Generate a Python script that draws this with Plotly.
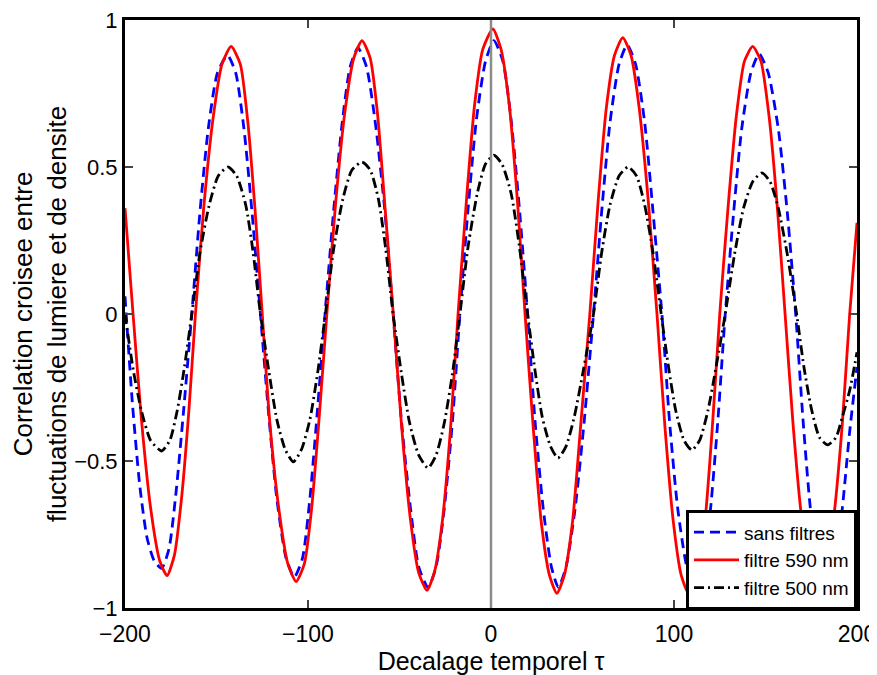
import plotly.graph_objects as go

# ---- data ----
red_x = [-200, -195.6, -191, -186, -181, -177, -173, -169, -165, -161.5, -157, -152, -147, -142, -137, -133, -129, -125,
         -121, -116, -111, -106.5, -102, -98, -94, -89.7, -85, -80, -75, -70.5, -66, -62, -58, -53.4, -49, -44, -39.5,
         -35, -31, -26.5, -22, -18, -13.5, -9, -4.5, 1, 5.5, 10, 14.5, 18.6, 23, 27.5, 32, 36, 40, 44.5, 49, 54, 58.5,
         63, 67.5, 72, 76.5, 81, 86, 90.7, 95, 99.5, 104, 108, 112.5, 117, 121, 125, 129.5, 134, 138.5, 143, 147.5,
         152, 156.5, 160.7, 165, 169.5, 174, 178.5, 183, 187.5, 192, 196, 200]
red_y = [0.36, 0.0, -0.36, -0.66, -0.84, -0.89, -0.82, -0.62, -0.32, 0.0, 0.36, 0.66, 0.85, 0.91, 0.85, 0.66, 0.36, 0.0,
         -0.36, -0.66, -0.85, -0.91, -0.85, -0.66, -0.36, 0.0, 0.37, 0.68, 0.87, 0.93, 0.87, 0.68, 0.37, 0.0, -0.37,
         -0.70, -0.88, -0.94, -0.88, -0.70, -0.38, 0.0, 0.38, 0.71, 0.90, 0.97, 0.90, 0.71, 0.38, 0.0, -0.38, -0.71,
         -0.89, -0.95, -0.89, -0.71, -0.38, 0.0, 0.38, 0.70, 0.88, 0.94, 0.88, 0.70, 0.38, 0.0, -0.38, -0.70, -0.89,
         -0.95, -0.89, -0.70, -0.38, 0.0, 0.36, 0.67, 0.86, 0.91, 0.86, 0.67, 0.36, 0.0, -0.37, -0.68, -0.87, -0.93,
         -0.87, -0.68, -0.37, 0.0, 0.31]

blue_x = [-200, -196, -192, -188, -184, -180, -176, -172, -168, -163.5, -159, -154.5, -149.5, -144, -139.5, -135, -130.5,
          -126, -121.5, -117, -112, -107.5, -103, -99, -95, -90.7, -86, -81.5, -77, -72.7, -68, -63, -58, -53.5, -49,
          -44, -39.5, -34.4, -30, -25.5, -21, -17, -12.5, -8, -3, 1.6, 6.5, 11, 15.5, 20, 24, 28.5, 33, 36.8, 41, 46,
          51, 56, 60.5, 65, 70, 74.4, 79, 84, 88.5, 93.4, 97.5, 102, 107, 111.5, 116, 120, 124, 128, 132.5, 137, 142,
          146.5, 151.5, 157, 162, 166.5, 170.5, 174.5, 179, 183.5, 188, 192, 196, 200]
blue_y = [0.06, -0.30, -0.58, -0.76, -0.84, -0.865, -0.80, -0.60, -0.33, 0.0, 0.35, 0.63, 0.82, 0.88, 0.82, 0.63, 0.34,
          0.0, -0.34, -0.63, -0.83, -0.895, -0.83, -0.63, -0.34, 0.0, 0.35, 0.64, 0.84, 0.905, 0.84, 0.64, 0.35, 0.0,
          -0.36, -0.66, -0.86, -0.93, -0.86, -0.66, -0.36, 0.0, 0.36, 0.66, 0.86, 0.93, 0.86, 0.66, 0.36, 0.0, -0.36,
          -0.66, -0.86, -0.93, -0.86, -0.66, -0.36, 0.0, 0.35, 0.65, 0.85, 0.915, 0.85, 0.65, 0.35, 0.0, -0.36, -0.66,
          -0.86, -0.93, -0.86, -0.66, -0.36, 0.0, 0.34, 0.63, 0.82, 0.885, 0.82, 0.63, 0.34, 0.0, -0.36, -0.66, -0.86,
          -0.92, -0.86, -0.66, -0.40, -0.18]

black_x = [-200, -195.5, -191, -186, -180, -175.5, -171.5, -167.5, -163.5, -159, -154, -149, -143.7, -139, -134, -130,
           -126, -121.5, -117, -112.5, -108, -103.5, -99, -94.5, -90.5, -86, -81, -76, -70.5, -66, -61.5, -57.5, -53.5,
           -49, -44.5, -39.5, -34.4, -30, -25.5, -21, -17, -12.5, -7.5, -3, 1.6, 6, 11, 15.5, 20, 24, 28, 32.5, 36.6,
           41, 45.5, 50.5, 56, 60.5, 65, 70, 74.9, 79.5, 84, 88.5, 93, 97, 101, 105.5, 109.8, 114, 118.5, 123, 128,
           133, 138, 143, 148, 152.5, 157, 162, 167, 171, 175, 179.5, 184, 188.5, 192, 196, 200]
black_y = [0.0, -0.19, -0.33, -0.43, -0.466, -0.43, -0.33, -0.18, 0.0, 0.21, 0.37, 0.47, 0.50, 0.47, 0.37, 0.21, 0.0,
           -0.19, -0.36, -0.46, -0.503, -0.46, -0.36, -0.19, 0.0, 0.22, 0.39, 0.49, 0.517, 0.49, 0.39, 0.22, 0.0,
           -0.20, -0.37, -0.48, -0.524, -0.48, -0.37, -0.20, 0.0, 0.23, 0.41, 0.51, 0.54, 0.51, 0.41, 0.23, 0.0,
           -0.19, -0.35, -0.45, -0.49, -0.45, -0.35, -0.19, 0.0, 0.21, 0.37, 0.47, 0.50, 0.47, 0.37, 0.21, 0.0,
           -0.18, -0.33, -0.43, -0.463, -0.43, -0.33, -0.18, 0.0, 0.20, 0.36, 0.45, 0.48, 0.45, 0.36, 0.20, 0.0,
           -0.18, -0.32, -0.42, -0.445, -0.42, -0.35, -0.26, -0.13]

x_ticks = [-200, -100, 0, 100, 200]
y_ticks = [-1, -0.5, 0, 0.5, 1]
y_tick_text = ["\u22121", "\u22120.5", "0", "0.5", "1"]

FONT = "Liberation Sans, Arial, Helvetica, sans-serif"

fig = go.Figure()
fig.add_trace(go.Scatter(x=blue_x, y=blue_y, mode="lines", name="sans filtres",
                         line=dict(color="#0000ff", width=2.8, dash="10px,6px", shape="spline", smoothing=0.6)))
fig.add_trace(go.Scatter(x=red_x, y=red_y, mode="lines", name="filtre 590 nm",
                         line=dict(color="#ff0000", width=2.8, shape="spline", smoothing=0.6)))
fig.add_trace(go.Scatter(x=black_x, y=black_y, mode="lines", name="filtre 500 nm",
                         line=dict(color="#000000", width=2.8, dash="10px,4px,2px,4px", shape="spline", smoothing=0.6)))

fig.add_shape(type="line", xref="x", yref="y", x0=0, x1=0, y0=-1, y1=1,
              line=dict(color="#8c8c8c", width=2.5), layer="above")

# the page body has an 8px default margin: size the figure to fit the window
fig.update_layout(
    width=869, height=667,
    margin=dict(l=117, r=20, t=12, b=67),
    paper_bgcolor="white", plot_bgcolor="white",
    font=dict(family=FONT, color="black", size=20),
    showlegend=True,
    legend=dict(x=1.0, xanchor="right", y=-0.004, yanchor="bottom",
                bgcolor="white", bordercolor="black", borderwidth=3,
                font=dict(size=19, family=FONT), tracegroupgap=0, itemwidth=45),
)
fig.update_xaxes(range=[-200, 200], tickvals=x_ticks, ticks="inside", ticklen=8, tickwidth=2,
                 showline=True, linewidth=3, linecolor="black", mirror="ticks", showgrid=False, zeroline=False,
                 tickfont=dict(size=23), ticklabelstandoff=3, automargin=False, ticklabeloverflow="allow",
                 title=dict(text="Decalage temporel \u03c4", font=dict(size=25), standoff=16))
fig.update_yaxes(range=[-1, 1], tickvals=y_ticks, ticktext=y_tick_text, ticks="inside", ticklen=8, tickwidth=2,
                 showline=True, linewidth=3, linecolor="black", mirror="ticks", showgrid=False, zeroline=False,
                 tickfont=dict(size=22), automargin=False, ticklabeloverflow="allow",
                 title=dict(text="Correlation croisee entre<br>fluctuations de lumiere et de densite",
                            font=dict(size=26), standoff=5))

fig.write_html("out.html")
